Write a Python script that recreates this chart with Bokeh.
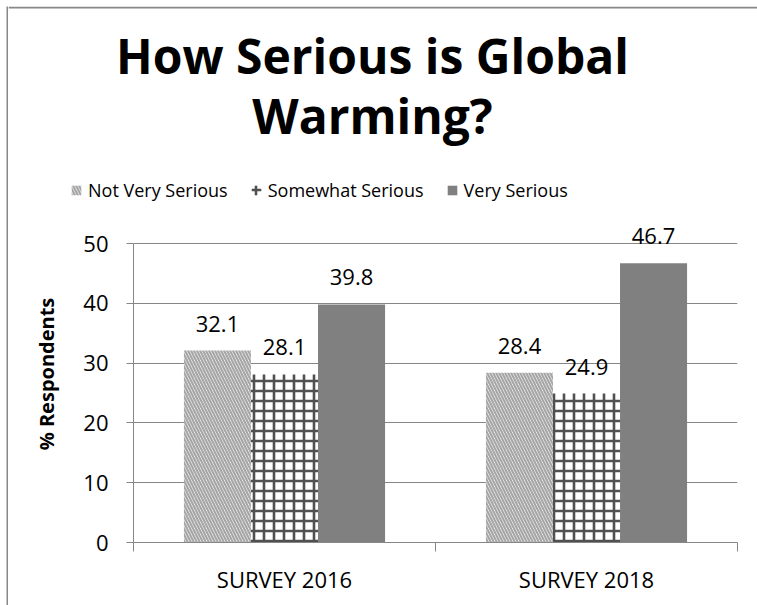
from bokeh.plotting import figure
from bokeh.layouts import column, row
from bokeh.models import (Range1d, FixedTicker, LinearAxis, Legend, LegendItem,
                          LabelSet, ColumnDataSource, Grid, Spacer, Span)
from bokeh.core.properties import value
from bokeh.embed import file_html
from bokeh.resources import INLINE

# --- data ---
surveys = ["SURVEY 2016", "SURVEY 2018"]
series = ["Not Very Serious", "Somewhat Serious", "Very Serious"]
not_very = [32.1, 28.4]
somewhat = [28.1, 24.9]
very = [39.8, 46.7]
y_ticks = [0, 10, 20, 30, 40, 50]
title_lines = ["How Serious is Global", "Warming?"]
y_title = "% Respondents"

FONT = "Open Sans"
GRID = "#868686"
EDGE = "#888888"


def bare(width, height, **kw):
    """A figure with no axes, grid or padding."""
    f = figure(width=width, height=height, output_backend="svg", toolbar_location=None,
               x_axis_type=None, y_axis_type=None, min_border=0, min_border_left=0,
               min_border_right=0, min_border_top=0, min_border_bottom=0, **kw)
    f.outline_line_color = None
    f.xgrid.visible = False
    f.ygrid.visible = False
    return f


# ---------------- main bar chart ----------------
# frame is 337 px tall; 0..50 takes the lower 299 px, the rest leaves room for labels
y_top = 50 * 337 / 299
p = figure(width=749, height=400, output_backend="svg", toolbar_location=None,
           x_range=Range1d(0, len(surveys)), y_range=Range1d(0, y_top),
           x_axis_type=None, y_axis_type=None,
           min_border_left=125, min_border_right=20,
           min_border_top=0, min_border_bottom=63)
p.outline_line_color = None
p.background_fill_color = "white"
p.border_fill_color = "white"

yax = LinearAxis(ticker=FixedTicker(ticks=y_ticks), bounds=(0, 50))
yax.axis_line_color = GRID
yax.major_tick_line_color = GRID
yax.major_tick_in = 0
yax.major_tick_out = 7
yax.minor_tick_line_color = None
yax.major_label_text_font = FONT
yax.major_label_text_font_size = "22px"
yax.major_label_text_color = "black"
yax.major_label_standoff = 18
yax.axis_label = y_title
yax.axis_label_text_font = FONT
yax.axis_label_text_font_style = "bold"
yax.axis_label_text_font_size = "20px"
yax.axis_label_text_color = "black"
yax.axis_label_standoff = 20
p.add_layout(yax, "left")

# category names at centres, tick marks at category boundaries
centers = [i + 0.5 for i in range(len(surveys))]
bounds = [float(i) for i in range(len(surveys) + 1)]
xax = LinearAxis(ticker=FixedTicker(ticks=centers, minor_ticks=bounds))
xax.major_label_overrides = {c: s for c, s in zip(centers, surveys)}
xax.axis_line_color = GRID
xax.major_tick_line_color = None
xax.major_tick_in = 0
xax.major_tick_out = 0
xax.minor_tick_line_color = GRID
xax.minor_tick_in = 0
xax.minor_tick_out = 9
xax.major_label_text_font = FONT
xax.major_label_text_font_size = "22px"
xax.major_label_text_color = "black"
xax.major_label_standoff = 12
p.add_layout(xax, "below")

p.add_layout(Grid(dimension=1, ticker=FixedTicker(ticks=y_ticks),
                  grid_line_color=GRID, grid_line_width=1))

bw = 0.222
values = [not_very, somewhat, very]
styles = [
    dict(fill_color="white", hatch_pattern="left_diagonal_line", hatch_color="#a6a6a6",
         hatch_weight=2.2, hatch_scale=6),
    dict(fill_color="white", hatch_pattern="cross", hatch_color="#505050",
         hatch_weight=2.6, hatch_scale=10),
    dict(fill_color="#808080"),
]
sources = []
for j, (vals, st) in enumerate(zip(values, styles)):
    xs = [c + (j - 1) * bw for c in centers]
    src = ColumnDataSource(dict(x=xs, top=vals, label=[f"{v:.1f}" for v in vals]))
    sources.append(src)
    p.vbar(x="x", top="top", width=bw, source=src, line_color=None, **st)
    p.add_layout(LabelSet(x="x", y="top", text="label", source=src,
                          text_align="center", text_baseline="alphabetic",
                          y_offset=19, text_font=value(FONT), text_font_size="22px",
                          text_color="black"))

# ---------------- heading: title + legend (page pixel coordinates) ----------------
head = bare(749, 199, x_range=Range1d(8, 757), y_range=Range1d(205, 6))
head.background_fill_color = "white"
head.border_fill_color = "white"

head.text(x=[372, 372], y=[55, 115], text=title_lines, text_align="center",
          text_baseline="alphabetic", text_font=value(FONT), text_font_style="bold",
          text_font_size="48px", text_color="black")

items = []
for name, src, st in zip(series, sources, styles):
    r = head.vbar(x="x", top="top", width=bw, source=src, line_color=None, **st)
    r.visible = False
    items.append(LegendItem(label=name, renderers=[r]))

legend = Legend(items=items, orientation="horizontal", location=(62, 3),
                glyph_width=12, glyph_height=12, label_standoff=6, spacing=22,
                padding=0, margin=0, border_line_color=None,
                background_fill_alpha=0, inactive_fill_alpha=0,
                label_text_font=FONT, label_text_font_size="18px",
                label_text_color="black")
head.add_layout(legend, "center")

# chart border: top edge inside the heading, left edge as a thin strip
head.add_layout(Span(location=7, dimension="width", line_color=EDGE, line_width=2))
left_edge = bare(2, 599)
left_edge.background_fill_color = EDGE
left_edge.border_fill_color = EDGE

layout = column(
    Spacer(width=757, height=6),
    row(Spacer(width=6, height=599), left_edge, column(head, row(p))),
)

open("out.html", "w").write(file_html(layout, INLINE))
